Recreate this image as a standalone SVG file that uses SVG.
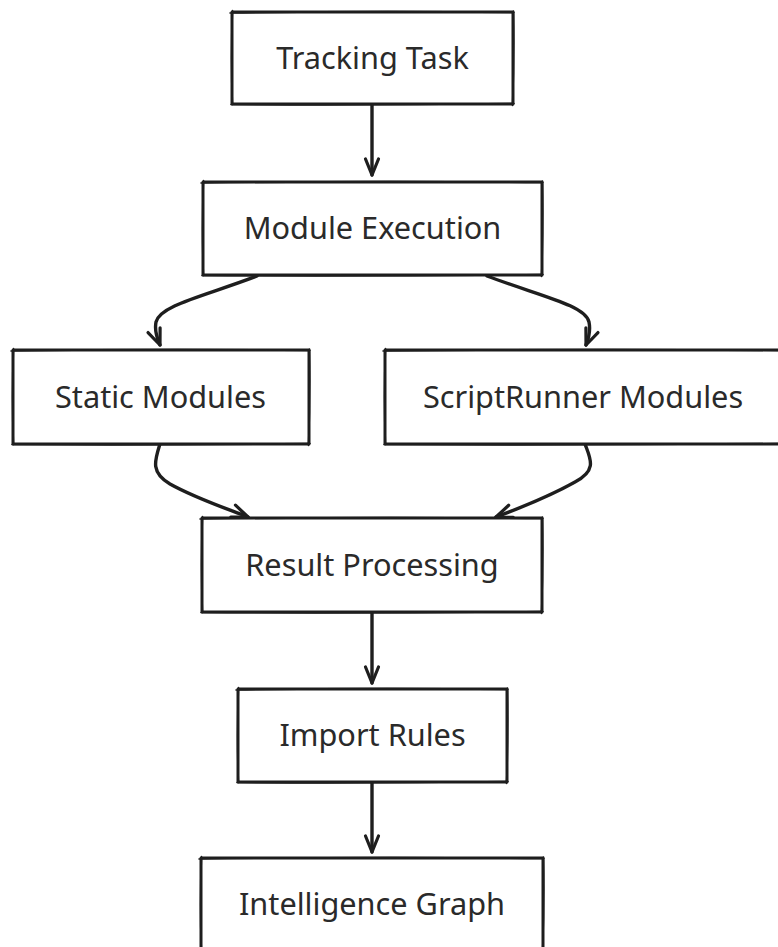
<svg xmlns="http://www.w3.org/2000/svg" width="778" height="947" viewBox="0 0 778 947">
  <defs>
    <marker id="arrow" markerUnits="userSpaceOnUse" markerWidth="24" markerHeight="20" viewBox="-20 -10 24 20" refX="0" refY="0" orient="auto">
      <path d="M-16,-6.5 L0,0 L-16,6.5" fill="none" stroke="#1e1e1e" stroke-width="3.2" stroke-linecap="round" stroke-linejoin="round"/>
    </marker>
    <style>
      .box { fill: #ffffff; stroke: #1e1e1e; stroke-width: 3; stroke-linejoin: round; }
      .sketch { fill: none; stroke: #1e1e1e; stroke-width: 1.6; stroke-linecap: round; }
      .label { font-family: "Noto Sans", "Open Sans", sans-serif; font-size: 30.7px; fill: #2a2a2a; text-anchor: middle; }
      .edge { fill: none; stroke: #1e1e1e; stroke-width: 3.4; stroke-linecap: round; stroke-linejoin: round; marker-end: url(#arrow); }
    </style>
  </defs>

  <rect width="778" height="947" fill="#ffffff"/>

  <!-- connectors -->
  <g id="connectors">
    <path class="edge" d="M372,104 L372,175"/>
    <path class="edge" d="M257,276 C205,296 160,305 156,322 C154,332 158,340 160,345"/>
    <path class="edge" d="M487,276 C540,296 585,305 589,322 C591,332 588,340 586,345"/>
    <path class="edge" d="M160,444 C155,460 150,472 170,484 C195,498 225,508 248,517"/>
    <path class="edge" d="M585,444 C590,458 598,470 575,482 C550,496 520,508 496,517"/>
    <path class="edge" d="M372,612 L372,683"/>
    <path class="edge" d="M372,782 L372,852"/>
  </g>

  <g id="tracking-task">
    <rect class="box" x="232" y="12" width="281" height="92"/>
    <path class="sketch" d="M230,13 Q372.5,10.5 514,12.5 M513.5,11 Q514.5,58 512.5,105.5 M514,103.5 Q372.5,105.5 231,104.5 M232.5,105 Q230.5,58 232.5,10.5"/>
    <text class="label" x="372.5" y="68.5">Tracking Task</text>
  </g>

  <g id="module-execution">
    <rect class="box" x="203" y="182" width="339" height="93"/>
    <path class="sketch" d="M201,183 Q372.5,180.5 543,182.5 M542.5,181 Q543.5,228.5 541.5,276.5 M543,274.5 Q372.5,276.5 202,275.5 M203.5,276 Q201.5,228.5 203.5,180.5"/>
    <text class="label" x="372.5" y="239">Module Execution</text>
  </g>

  <g id="static-modules">
    <rect class="box" x="13" y="350" width="296" height="94"/>
    <path class="sketch" d="M11,351 Q161,348.5 310,350.5 M309.5,349 Q310.5,397 308.5,445.5 M310,443.5 Q161,445.5 12,444.5 M13.5,445 Q11.5,397 13.5,348.5"/>
    <text class="label" x="160.5" y="407.5">Static Modules</text>
  </g>

  <g id="scriptrunner-modules">
    <rect class="box" x="385" y="350" width="396" height="94"/>
    <path class="sketch" d="M383,351 Q583,348.5 782,350.5 M782,443.5 Q583,445.5 384,444.5 M385.5,445 Q383.5,397 385.5,348.5"/>
    <text class="label" x="583" y="407.5">ScriptRunner Modules</text>
  </g>

  <g id="result-processing">
    <rect class="box" x="202" y="518" width="340" height="94"/>
    <path class="sketch" d="M200,519 Q372,516.5 543,518.5 M542.5,517 Q543.5,565 541.5,613.5 M543,611.5 Q372,613.5 201,612.5 M202.5,613 Q200.5,565 202.5,516.5"/>
    <text class="label" x="372" y="575.5">Result Processing</text>
  </g>

  <g id="import-rules">
    <rect class="box" x="238" y="689" width="269" height="93"/>
    <path class="sketch" d="M236,690 Q372.5,687.5 508,689.5 M507.5,688 Q508.5,735.5 506.5,783.5 M508,781.5 Q372.5,783.5 237,782.5 M238.5,783 Q236.5,735.5 238.5,687.5"/>
    <text class="label" x="372.5" y="746">Import Rules</text>
  </g>

  <g id="intelligence-graph">
    <rect class="box" x="201" y="858" width="342" height="93"/>
    <path class="sketch" d="M199,859 Q372,856.5 544,858.5 M543.5,857 Q544.5,904.5 542.5,952.5 M201.5,952 Q199.5,904.5 201.5,856.5"/>
    <text class="label" x="372" y="915">Intelligence Graph</text>
  </g>
</svg>
